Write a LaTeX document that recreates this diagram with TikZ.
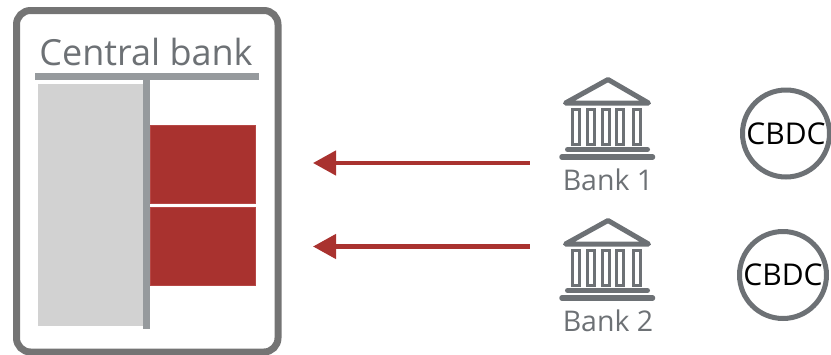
\documentclass[tikz,border=0pt]{standalone}
\usepackage{fontspec}
\setmainfont{Open Sans}
\usetikzlibrary{arrows.meta}
\definecolor{frameC}{HTML}{747474}
\definecolor{ruleC}{HTML}{969A9D}
\definecolor{fillC}{HTML}{D2D2D2}
\definecolor{redC}{HTML}{A9322F}
\definecolor{iconC}{HTML}{6D7175}
\tikzset{
  x=1pt,y=-1pt,
  framebox/.style={draw=frameC,line width=7pt,rounded corners=14pt},
  ruleline/.style={draw=ruleC,line width=6.3pt},
  assetblock/.style={fill=fillC},
  liabblock/.style={fill=redC,draw=redC!85!pink,line width=.5pt},
  flowarrow/.style={draw=redC,line width=4.5pt,-{Triangle[length=23pt,width=24pt]},shorten >=0pt},
  titletext/.style={text=iconC,font=\fontsize{36}{42}\selectfont,inner sep=0pt,anchor=base},
  banktext/.style={text=iconC,font=\fontsize{28.5}{34}\selectfont,inner sep=0pt},
  cbdcnode/.style={circle,draw=iconC,line width=5pt,fill=white,minimum size=87pt,inner sep=0pt,font=\fontsize{30}{35}\selectfont,text=black},
  bankicon/.style={inner sep=0pt,minimum width=154pt,minimum height=83pt},
  iconline/.style={draw=iconC,line width=5pt,line join=round,line cap=round},
  iconcol/.style={draw=iconC,line width=3pt},
}
\newcommand{\bankglyph}[1]{%
  \begin{scope}[yshift=#1]
    \draw[iconline] (608,79.5) -- (565.5,103) -- (648.5,103) -- cycle;
    \foreach \cx in {576,591,606,620,637}
      \draw[iconcol] (\cx-3.7,109.5) rectangle (\cx+3.7,144);
    \draw[iconline] (567.5,149.5) -- (647.5,149.5);
    \draw[iconline,line width=5.5pt] (562,157) -- (652.5,157);
  \end{scope}}
\begin{document}
\begin{tikzpicture}
\useasboundingbox (0,0) rectangle (831,354);
% central bank
\node[framebox,minimum width=261.5pt,minimum height=341.5pt,inner sep=0pt] (cb) at (147.25,181.25) {};
\node[titletext] (cbtitle) at (146,65.5) {Central bank};
\fill[assetblock] (38,84) rectangle (143.5,326);
\node[liabblock,minimum width=105.5pt,minimum height=78pt,inner sep=0pt] (liab1) at (202.75,164) {};
\node[liabblock,minimum width=105.5pt,minimum height=78.5pt,inner sep=0pt] (liab2) at (202.75,246.25) {};
\coordinate (ruleL) at (35,76.5);
\coordinate (ruleR) at (259,76.5);
\coordinate (ruleT) at (146.5,76.5);
\coordinate (ruleB) at (146.5,329);
\draw[ruleline] (ruleL) -- (ruleR);
\draw[ruleline] (ruleT) -- (ruleB);
% banks
\bankglyph{0pt}
\bankglyph{-141pt}
\node[bankicon] (icon1) at (607,118) {};
\node[bankicon] (icon2) at (607,259) {};
\node[banktext] (bank1) at (608,180) {Bank 1};
\node[banktext] (bank2) at (608,321) {Bank 2};
% CBDC
\node[cbdcnode] (cbdc1) at (786,133.5) {CBDC};
\node[cbdcnode] (cbdc2) at (783,275) {CBDC};
% arrows
\coordinate (tip1) at (313,163);
\coordinate (tip2) at (313,246.5);
\draw[flowarrow] (icon1.west |- tip1) -- (tip1);
\draw[flowarrow] (icon2.west |- tip2) -- (tip2);
\end{tikzpicture}
\end{document}
